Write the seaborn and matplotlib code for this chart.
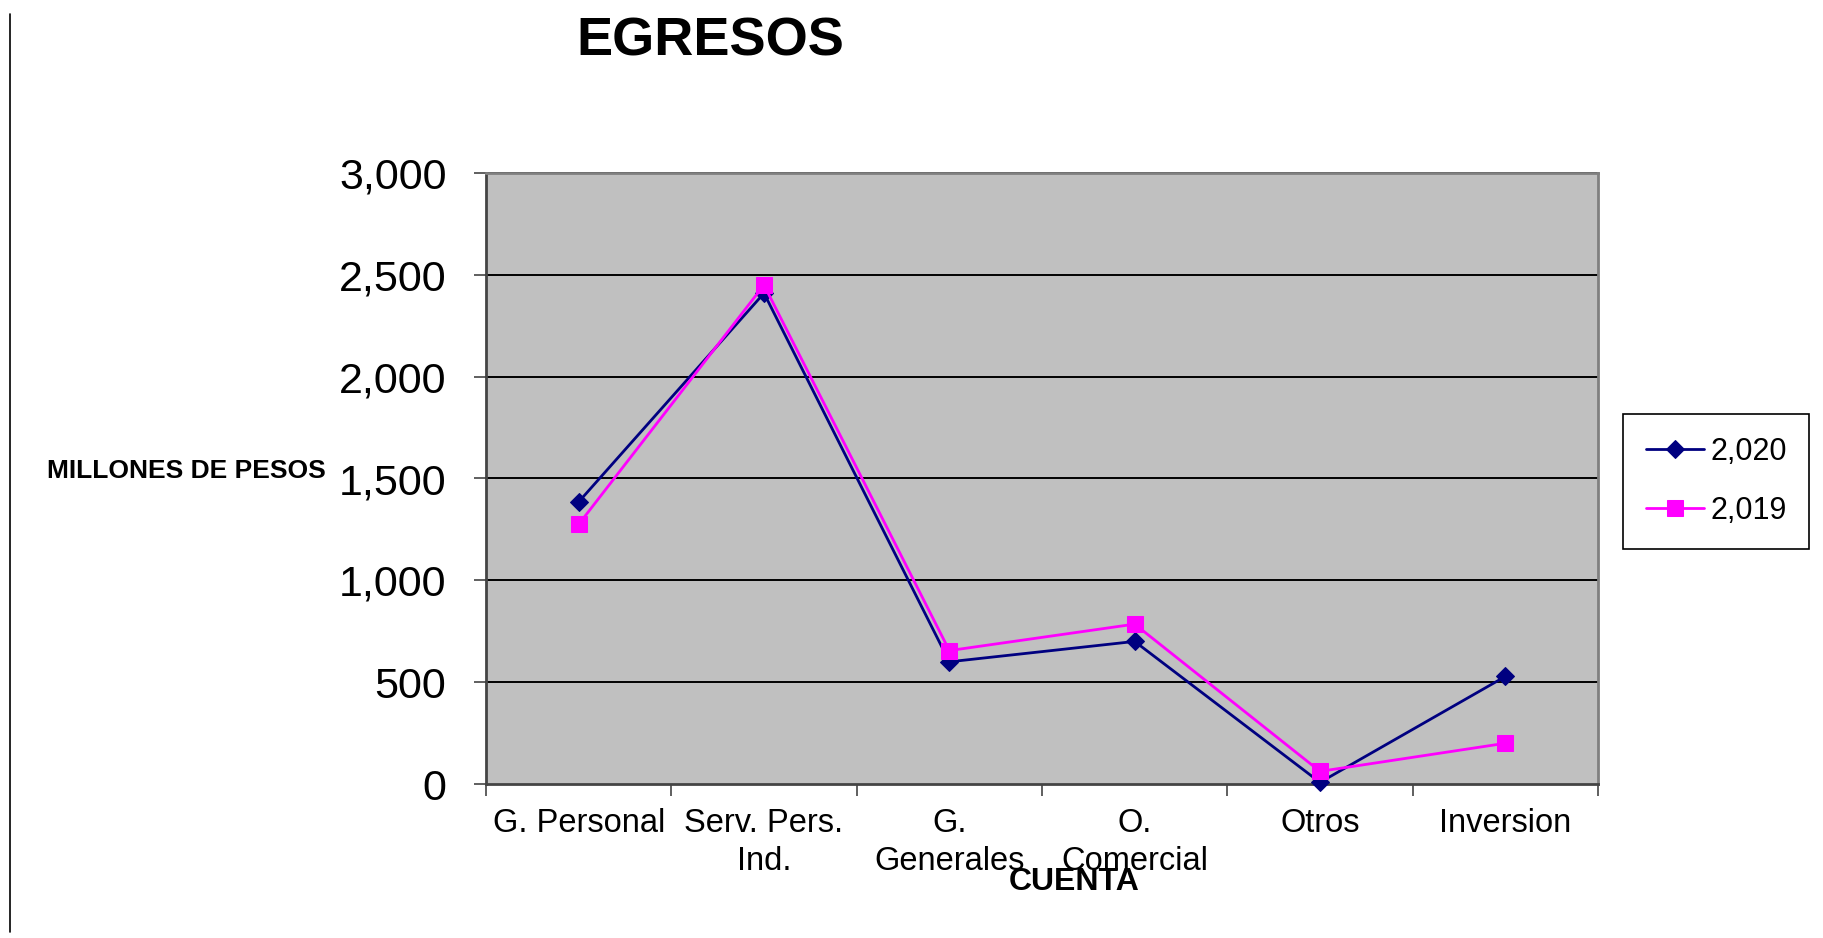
import numpy as np
import pandas as pd
import matplotlib
matplotlib.use("Agg")
import matplotlib.pyplot as plt
import seaborn as sns
from matplotlib.lines import Line2D
from matplotlib.ticker import FuncFormatter

# Données (millones de pesos)
cuentas = ["G. Personal", "Serv. Pers.\nInd.", "G.\nGenerales", "O.\nComercial", "Otros", "Inversion"]
egresos_2020 = [1385, 2410, 600, 700, 8, 528]
egresos_2019 = [1275, 2450, 655, 785, 62, 200]

df = pd.DataFrame({"cuenta": cuentas, "2,020": egresos_2020, "2,019": egresos_2019})
df["pos"] = np.arange(len(cuentas))

sns.set_style("white")
plt.rcParams["font.family"] = ["Liberation Sans", "DejaVu Sans"]
plt.rcParams["text.color"] = "black"
plt.rcParams["xtick.color"] = "black"
plt.rcParams["ytick.color"] = "black"

fig = plt.figure(figsize=(18.24, 9.38), dpi=100)
ax = fig.add_axes([486 / 1824, 154 / 938, 1112 / 1824, 611 / 938])
ax.set_facecolor("#C0C0C0")

# lignes horizontales
for v in range(500, 3001, 500):
    ax.axhline(v, color="black", lw=1.4, zorder=1)

sns.lineplot(data=df, x="pos", y="2,020", ax=ax, color="#000080", marker="D",
             markersize=9.5, lw=2, markeredgecolor="#000080", label="2,020", zorder=3)
sns.lineplot(data=df, x="pos", y="2,019", ax=ax, color="#FF00FF", marker="s",
             markersize=11, lw=2, markeredgecolor="#FF00FF", label="2,019", zorder=4)
for ln in ax.lines:
    ln.set_clip_on(False)

ax.set_xlim(-0.5, len(cuentas) - 0.5)
ax.set_ylim(0, 3000)
ax.set_yticks(range(0, 3001, 500))
ax.yaxis.set_major_formatter(FuncFormatter(lambda v, p: f"{int(v):,}"))
ax.tick_params(axis="y", labelsize=31, length=8.5, width=1.2, color="#444444", direction="out", left=True, pad=20)

ax.set_xticks(np.arange(-0.5, len(cuentas)))
ax.set_xticklabels([])
ax.set_xticks(np.arange(len(cuentas)), minor=True)
ax.set_xticklabels(cuentas, minor=True, fontsize=23.5, linespacing=1.32, va="top")
ax.tick_params(axis="x", which="major", length=8.5, width=1.2, color="#444444", direction="out", bottom=True)
ax.tick_params(axis="x", which="minor", length=0, pad=17)

for s in ax.spines.values():
    s.set_color("#808080")
    s.set_linewidth(2)
ax.spines["left"].set_color("#444444")
ax.spines["bottom"].set_color("#444444")

ax.set_xlabel("")
ax.set_ylabel("")

fig.text(710 / 1824, 1 - 41 / 938, "EGRESOS", fontsize=39, fontweight="bold", ha="center", va="center")
fig.text(326 / 1824, 1 - 471 / 938, "MILLONES DE PESOS", fontsize=19, fontweight="bold", ha="right", va="center")
fig.text(1074 / 1824, 1 - 882 / 938, "CUENTA", fontsize=23, fontweight="bold", ha="center", va="center")

# trait vertical à gauche
fig.add_artist(Line2D([10 / 1824, 10 / 1824], [1 - 14 / 938, 1 - 932 / 938], color="black", lw=1.2))

leg = ax.legend(loc="upper left", bbox_to_anchor=(1623 / 1824, 1 - 414 / 938), bbox_transform=fig.transFigure,
                fontsize=22, frameon=True, fancybox=False, edgecolor="black", framealpha=1,
                handlelength=1.9, handletextpad=0.2, labelspacing=0.95, borderpad=0.75, borderaxespad=0)
leg.get_frame().set_linewidth(1.2)

fig.savefig("out.png", dpi=100)
